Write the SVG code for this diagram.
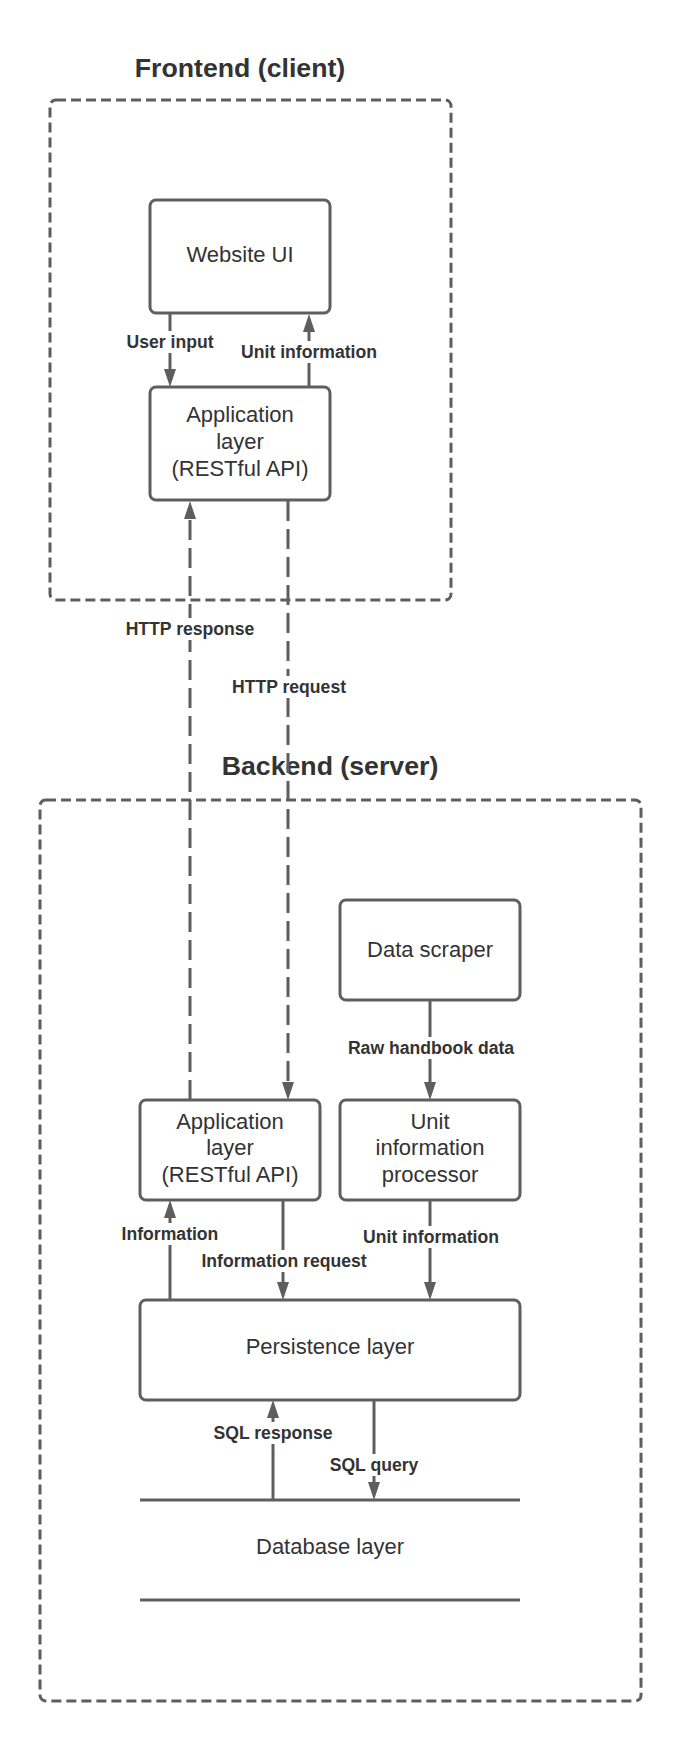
<svg xmlns="http://www.w3.org/2000/svg" width="680" height="1740" viewBox="0 0 680 1740">
<style>
.container{fill:none;stroke:#5e5e5e;stroke-width:3;stroke-dasharray:10 5}
.box{fill:#fff;stroke:#5e5e5e;stroke-width:3}
.title{font-family:"Liberation Sans",Arial,sans-serif;font-weight:bold;font-size:26.7px;fill:#333;text-anchor:middle}
.txt{font-family:"Liberation Sans",Arial,sans-serif;font-size:22px;fill:#333;text-anchor:middle}
.lbl{font-family:"Liberation Sans",Arial,sans-serif;font-weight:bold;font-size:17.6px;fill:#333;text-anchor:middle}
.lblbg{fill:#fff}
.edge{fill:none;stroke:#5e5e5e;stroke-width:3}
.dashed{stroke-dasharray:20 8}
.dbline{stroke:#5e5e5e;stroke-width:3}
</style>
<defs>
<marker id="arrow" viewBox="0 0 18 12" markerWidth="18" markerHeight="12" refX="8" refY="6" orient="auto" markerUnits="userSpaceOnUse">
<polygon points="0,0 18,6 0,12" fill="#5e5e5e"/>
</marker>
</defs>
<rect width="680" height="1740" fill="#fff"/>

<g id="frontend">
<text class="title" x="240" y="77">Frontend (client)</text>
<rect class="container" x="50" y="100" width="401" height="500" rx="6"/>
</g>
<g id="backend">
<text class="title" x="330" y="775">Backend (server)</text>
<rect class="container" x="40" y="800" width="601" height="901" rx="6"/>
</g>

<g id="connectors">
<line class="edge" x1="170" y1="313" x2="170" y2="377" marker-end="url(#arrow)"/>
<line class="edge" x1="309" y1="387" x2="309" y2="324" marker-end="url(#arrow)"/>
<line class="edge dashed" x1="190" y1="1100" x2="190" y2="511" marker-end="url(#arrow)"/>
<line class="edge dashed" x1="288" y1="501" x2="288" y2="1090" marker-end="url(#arrow)"/>
<line class="edge" x1="430" y1="1000" x2="430" y2="1090" marker-end="url(#arrow)"/>
<line class="edge" x1="170" y1="1300" x2="170" y2="1210" marker-end="url(#arrow)"/>
<line class="edge" x1="283" y1="1200" x2="283" y2="1290" marker-end="url(#arrow)"/>
<line class="edge" x1="430" y1="1200" x2="430" y2="1290" marker-end="url(#arrow)"/>
<line class="edge" x1="273" y1="1500" x2="273" y2="1410" marker-end="url(#arrow)"/>
<line class="edge" x1="374" y1="1400" x2="374" y2="1490" marker-end="url(#arrow)"/>

<rect class="lblbg" x="125" y="331" width="91" height="22"/>
<text class="lbl" x="170" y="348">User input</text>
<rect class="lblbg" x="240" y="341" width="140" height="22"/>
<text class="lbl" x="309" y="358">Unit information</text>
<rect class="lblbg" x="124" y="618" width="133" height="22"/>
<text class="lbl" x="190" y="635">HTTP response</text>
<rect class="lblbg" x="230" y="676" width="118" height="22"/>
<text class="lbl" x="289" y="693">HTTP request</text>
<rect class="lblbg" x="346" y="1037" width="170" height="22"/>
<text class="lbl" x="431" y="1054">Raw handbook data</text>
<rect class="lblbg" x="120" y="1223" width="101" height="22"/>
<text class="lbl" x="170" y="1240">Information</text>
<rect class="lblbg" x="362" y="1226" width="140" height="22"/>
<text class="lbl" x="431" y="1243">Unit information</text>
<rect class="lblbg" x="200" y="1250" width="169" height="22"/>
<text class="lbl" x="284" y="1267">Information request</text>
<rect class="lblbg" x="212" y="1422" width="123" height="22"/>
<text class="lbl" x="273" y="1439">SQL response</text>
<rect class="lblbg" x="328" y="1454" width="93" height="22"/>
<text class="lbl" x="374" y="1471">SQL query</text>
</g>

<g id="website-ui">
<rect class="box" x="150" y="200" width="180" height="113" rx="6"/>
<text class="txt" x="240" y="262">Website UI</text>
</g>
<g id="frontend-app">
<rect class="box" x="150" y="387" width="180" height="113" rx="6"/>
<text class="txt" x="240" y="422">Application</text>
<text class="txt" x="240" y="449">layer</text>
<text class="txt" x="240" y="476">(RESTful API)</text>
</g>
<g id="data-scraper">
<rect class="box" x="340" y="900" width="180" height="100" rx="6"/>
<text class="txt" x="430" y="957">Data scraper</text>
</g>
<g id="backend-app">
<rect class="box" x="140" y="1100" width="180" height="100" rx="6"/>
<text class="txt" x="230" y="1129">Application</text>
<text class="txt" x="230" y="1155">layer</text>
<text class="txt" x="230" y="1182">(RESTful API)</text>
</g>
<g id="unit-processor">
<rect class="box" x="340" y="1100" width="180" height="100" rx="6"/>
<text class="txt" x="430" y="1129">Unit</text>
<text class="txt" x="430" y="1155">information</text>
<text class="txt" x="430" y="1182">processor</text>
</g>
<g id="persistence">
<rect class="box" x="140" y="1300" width="380" height="100" rx="6"/>
<text class="txt" x="330" y="1354">Persistence layer</text>
</g>
<g id="database">
<line class="dbline" x1="140" y1="1500" x2="520" y2="1500"/>
<line class="dbline" x1="140" y1="1600" x2="520" y2="1600"/>
<text class="txt" x="330" y="1554">Database layer</text>
</g>
</svg>
